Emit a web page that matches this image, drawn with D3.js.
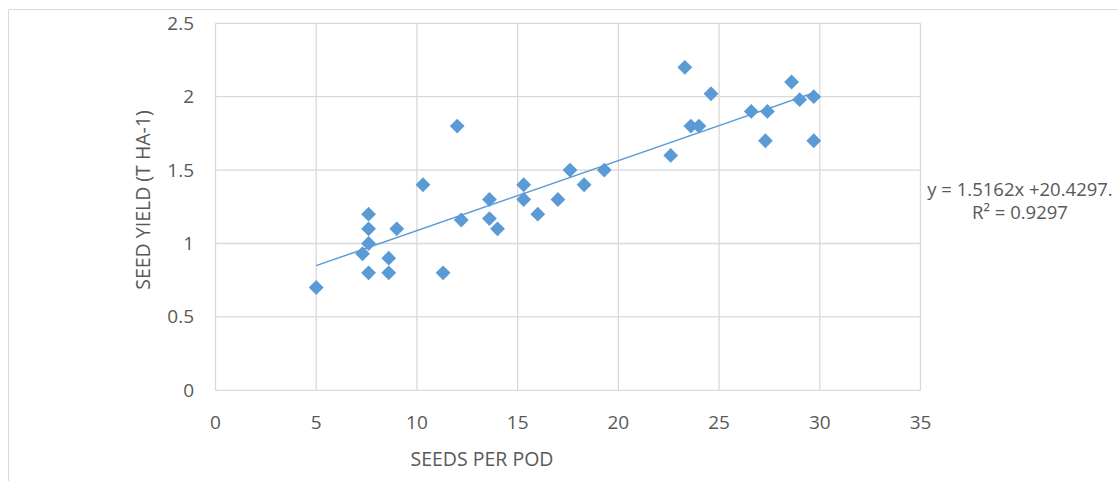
<!DOCTYPE html>
<html><head><meta charset="utf-8">
<script src="https://cdn.jsdelivr.net/npm/d3@7/dist/d3.min.js"></script>
<style>body{margin:0;background:#fff;} svg{display:block;} text{font-family:"Open Sans","Liberation Sans",sans-serif;fill:#595959;}</style>
</head><body>
<svg id="c" width="1118" height="481"></svg>
<script>
const seedsPerPod = [5, 7.6, 7.6, 7.6, 7.3, 7.6, 8.6, 8.6, 9, 10.3, 11.3, 12, 12.2, 13.6, 13.6, 14, 15.3, 15.3, 16, 17, 17.6, 18.3, 19.3, 22.6, 23.3, 23.6, 24, 24.6, 26.6, 27.4, 27.3, 28.6, 29, 29.7, 29.7];
const seedYield  = [0.7, 1.2, 1.1, 1.0, 0.93, 0.8, 0.9, 0.8, 1.1, 1.4, 0.8, 1.8, 1.16, 1.3, 1.17, 1.1, 1.4, 1.3, 1.2, 1.3, 1.5, 1.4, 1.5, 1.6, 2.2, 1.8, 1.8, 2.02, 1.9, 1.9, 1.7, 2.1, 1.98, 2.0, 1.7];
const xTicks = [0, 5, 10, 15, 20, 25, 30, 35];
const yTicks = [0, 0.5, 1, 1.5, 2, 2.5];
const xTitle = "SEEDS PER POD";
const yTitle = "SEED YIELD (T HA-1)";
const eqLine1 = "y = 1.5162x +20.4297.";
const eqLine2 = "R² = 0.9297";

const svg = d3.select("#c");
const L = 215.5, R = 920.5, T = 23.3, B = 390.3;
const x = d3.scaleLinear().domain([0, 35]).range([L, R]);
const y = d3.scaleLinear().domain([0, 2.5]).range([B, T]);

// chart area border
svg.append("path").attr("d", "M8.5,481 V9.5 H1118").attr("fill","none").attr("stroke","#d9d9d9").attr("stroke-width",1);

// gridlines
const g = svg.append("g");
g.selectAll(".gx").data(xTicks).join("line")
  .attr("x1", d => x(d)).attr("x2", d => x(d)).attr("y1", T).attr("y2", B)
  .attr("stroke", "#d9d9d9").attr("stroke-width", 1.3);
g.selectAll(".gy").data(yTicks).join("line")
  .attr("y1", d => y(d)).attr("y2", d => y(d)).attr("x1", L).attr("x2", R)
  .attr("stroke", "#d9d9d9").attr("stroke-width", 1.3);

// tick labels
svg.selectAll(".xt").data(xTicks).join("text")
  .attr("x", d => x(d)).attr("y", 428.5).attr("text-anchor","middle")
  .attr("font-size", 19).text(d => d);
svg.selectAll(".yt").data(yTicks).join("text")
  .attr("x", 194).attr("y", d => y(d) + 6.5).attr("text-anchor","end")
  .attr("font-size", 19).text(d => d);

// axis titles
svg.append("text").attr("x", 482).attr("y", 466).attr("text-anchor","middle")
  .attr("font-size", 19.5).text(xTitle);
svg.append("text").attr("transform", "translate(150,200) rotate(-90)").attr("text-anchor","middle")
  .attr("font-size", 19.5).text(yTitle);

// trendline (least squares)
const pts = seedsPerPod.map((v, i) => [v, seedYield[i]]);
const mx = d3.mean(pts, p => p[0]), my = d3.mean(pts, p => p[1]);
const sxy = d3.sum(pts, p => (p[0]-mx)*(p[1]-my)), sxx = d3.sum(pts, p => (p[0]-mx)**2);
const slope = sxy / sxx, icpt = my - slope * mx;
const ext = d3.extent(seedsPerPod);
svg.append("line")
  .attr("x1", x(ext[0])).attr("y1", y(icpt + slope*ext[0]))
  .attr("x2", x(ext[1])).attr("y2", y(icpt + slope*ext[1]))
  .attr("stroke", "#5b9bd5").attr("stroke-width", 1.5);

// diamonds
const sym = d3.symbol().type(d3.symbolSquare).size(110);
svg.selectAll(".pt").data(pts).join("path")
  .attr("d", sym)
  .attr("transform", d => `translate(${x(d[0])},${y(d[1])}) rotate(45)`)
  .attr("fill", "#5b9bd5");

// equation
svg.append("text").attr("x", 1020).attr("y", 195.5).attr("text-anchor","middle").attr("font-size", 18.5).text(eqLine1);
svg.append("text").attr("x", 1020).attr("y", 218.5).attr("text-anchor","middle").attr("font-size", 18.5).text(eqLine2);
</script>
</body></html>
